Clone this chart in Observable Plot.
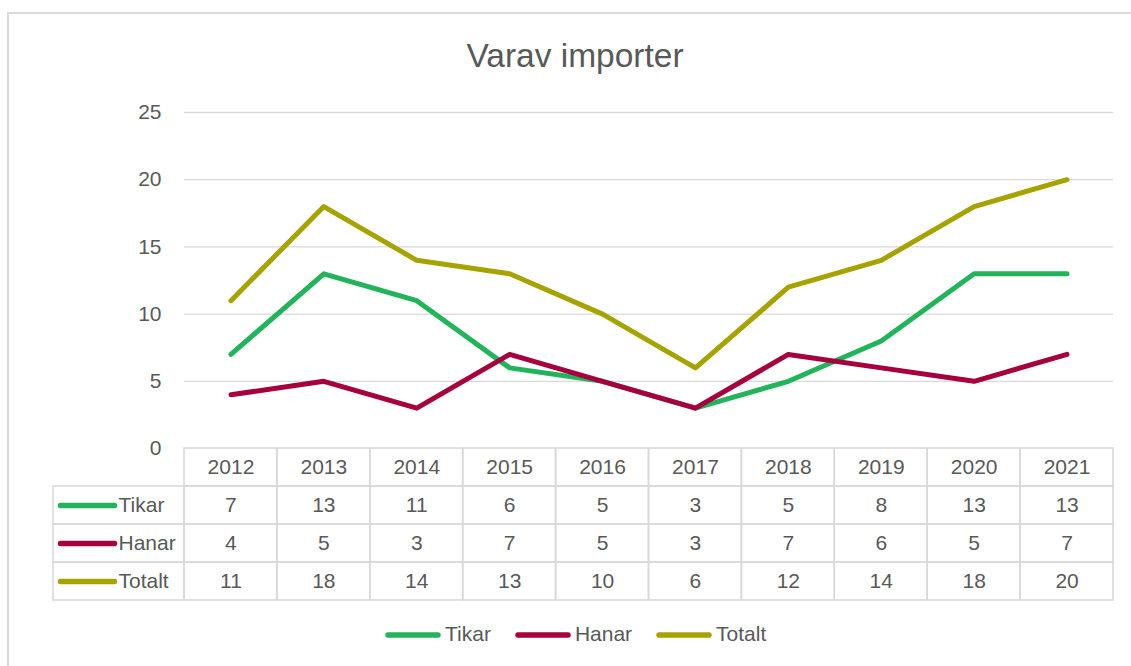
<!DOCTYPE html>
<html>
<head>
<meta charset="utf-8">
<script src="https://cdn.jsdelivr.net/npm/d3@7"></script>
<script src="https://cdn.jsdelivr.net/npm/@observablehq/plot@0.6"></script>
<style>
  html, body { margin: 0; padding: 0; background: #fff; }
  #wrap { position: relative; width: 1131px; height: 666px; overflow: hidden; font-family: "Liberation Sans", Arial, sans-serif; color: #595959; }
  #frame { position: absolute; left: 7px; top: 12px; width: 1200px; height: 700px; border: 2px solid #d9d9d9; box-sizing: border-box; }
  #title { position: absolute; left: 0; top: 39px; width: 1150px; text-align: center; font-size: 33.5px; line-height: 33px; }
  #chart { position: absolute; left: 0; top: 90px; }
  #table { position: absolute; left: 0; top: 440px; }
  #legend { position: absolute; left: 385px; top: 622px; height: 24px; display: flex; align-items: center; font-size: 21px; line-height: 24px; }
  #legend .item { display: flex; align-items: center; margin-right: 24px; }
  #legend svg { margin-right: 4px; }
</style>
</head>
<body>
<div id="wrap">
  <div id="frame"></div>
  <div id="title">Varav importer</div>
  <div id="chart"></div>
  <div id="table"></div>
  <div id="legend"></div>
</div>
<script>
// ---- data ----
const years = [2012, 2013, 2014, 2015, 2016, 2017, 2018, 2019, 2020, 2021];
const tikar = [7, 13, 11, 6, 5, 3, 5, 8, 13, 13];
const hanar = [4, 5, 3, 7, 5, 3, 7, 6, 5, 7];
const totalt = [11, 18, 14, 13, 10, 6, 12, 14, 18, 20];
const seriesNames = ["Tikar", "Hanar", "Totalt"];
const seriesColors = ["#22B35B", "#A6003F", "#A6A300"];
const yTicks = [0, 5, 10, 15, 20, 25];

const seriesValues = [tikar, hanar, totalt];
const data = seriesNames.flatMap((s, i) => seriesValues[i].map((v, j) => ({series: s, year: years[j], value: v})));

const font = "'Liberation Sans', Arial, sans-serif";
const xDomain = [years[0] - 0.5, years[years.length - 1] + 0.5];
const xRange = [184, 1113];
const color = {domain: seriesNames, range: seriesColors};

// ---- line chart ----
const chart = Plot.plot({
  width: 1131,
  height: 368,
  marginTop: 22,
  marginBottom: 10,
  marginLeft: 184,
  marginRight: 18,
  style: {fontFamily: font, fontSize: "21px", color: "#595959", background: "transparent"},
  x: {domain: xDomain, range: xRange, axis: null},
  y: {domain: [0, 25], range: [358, 22], ticks: yTicks, tickSize: 0, tickPadding: 23, label: null},
  color,
  marks: [
    Plot.ruleY(yTicks.filter(t => t > 0), {stroke: "#d9d9d9", strokeWidth: 1.3}),
    Plot.line(data, {x: "year", y: "value", z: "series", stroke: "series", strokeWidth: 5, strokeLinecap: "round", strokeLinejoin: "round"})
  ]
});
document.getElementById("chart").appendChild(chart);

// ---- data table ----
const xs = Plot.scale({x: {domain: xDomain, range: xRange}});
const tableLeft = xs.invert(53);
const rows = ["hdr", ...seriesNames];
const yearCells = rows.flatMap(r => years.map(y => ({row: r, x1: y - 0.5, x2: y + 0.5})));
const labelCells = seriesNames.map(r => ({row: r, x1: tableLeft, x2: xDomain[0]}));

const table = Plot.plot({
  width: 1131,
  height: 170,
  marginTop: 8,
  marginBottom: 10,
  marginLeft: 53,
  marginRight: 18,
  style: {fontFamily: font, fontSize: "21px", color: "#595959", background: "transparent", overflow: "visible"},
  x: {domain: xDomain, range: xRange, axis: null},
  y: {type: "band", domain: rows, range: [8, 160], padding: 0, axis: null},
  color,
  marks: [
    Plot.barX([...yearCells, ...labelCells], {x1: "x1", x2: "x2", y: "row", fill: "none", stroke: "#d9d9d9", strokeWidth: 1.6}),
    Plot.text(years, {x: d => d, y: () => "hdr", text: d => String(d), fill: "#595959"}),
    Plot.text(data, {x: "year", y: "series", text: d => String(d.value), fill: "#595959"}),
    Plot.link(seriesNames, {x1: () => xs.invert(60), x2: () => xs.invert(114), y1: d => d, y2: d => d, stroke: d => d, strokeWidth: 5.5, strokeLinecap: "round"}),
    Plot.text(seriesNames, {x: () => xs.invert(118), y: d => d, text: d => d, textAnchor: "start", fill: "#595959"})
  ]
});
document.getElementById("table").appendChild(table);

// ---- legend ----
const legend = document.getElementById("legend");
seriesNames.forEach((s, i) => {
  const item = document.createElement("div");
  item.className = "item";
  item.innerHTML = `<svg width="56" height="10"><line x1="3" x2="53" y1="6" y2="6" stroke="${seriesColors[i]}" stroke-width="5.5" stroke-linecap="round"/></svg><span>${s}</span>`;
  legend.appendChild(item);
});
</script>
</body>
</html>
